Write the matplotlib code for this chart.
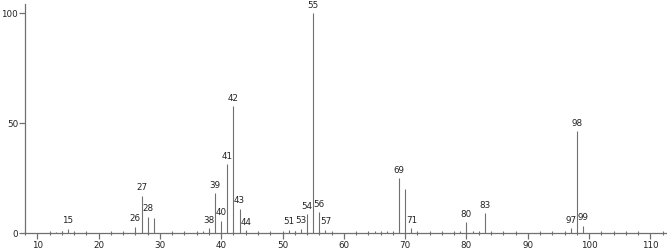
import matplotlib
matplotlib.use("Agg")
import matplotlib.pyplot as plt
from matplotlib.ticker import MultipleLocator

# mass spectrum: m/z and relative intensity
mz = [13, 14, 15, 26, 27, 28, 29, 37, 38, 39, 40, 41, 42, 43, 44,
      50, 51, 52, 53, 54, 55, 56, 57, 65, 67, 69, 70, 71,
      79, 80, 81, 83, 97, 98, 99]
intensity = [0.5, 1.0, 2.0, 2.9, 17.0, 7.4, 6.8, 1.0, 2.1, 18.2, 5.6, 31.4, 57.8, 11.1, 1.4,
             0.8, 1.5, 0.7, 2.0, 8.5, 100.0, 9.4, 1.5, 0.7, 0.7, 25.1, 20.2, 2.1,
             0.8, 4.9, 0.8, 9.1, 2.3, 46.4, 3.3]
labeled = [15, 26, 27, 28, 38, 39, 40, 41, 42, 43, 44, 51, 53, 54, 55, 56, 57,
           69, 71, 80, 83, 97, 98, 99]

line_col = "#707070"
text_col = "#222222"

fig = plt.figure(figsize=(6.67, 2.49), dpi=100)
ax = fig.add_axes([25 / 667, 16 / 249, 642 / 667, 229 / 249])

ax.vlines(mz, 0, intensity, color=line_col, linewidth=0.8)
for m, v in zip(mz, intensity):
    if m in labeled:
        ax.text(m, v + 1.5, str(m), ha="center", va="bottom",
                fontsize=6.3, color=text_col, family="DejaVu Sans")

ax.set_xlim(8.0, 112.7)
ax.set_ylim(0, 104.2)

for s in ["top", "right"]:
    ax.spines[s].set_visible(False)
for s in ["left", "bottom"]:
    ax.spines[s].set_color(line_col)
    ax.spines[s].set_linewidth(0.9)

ax.xaxis.set_major_locator(MultipleLocator(10))
ax.xaxis.set_minor_locator(MultipleLocator(2))
ax.set_yticks([0, 50, 100])
ax.tick_params(axis="x", which="major", direction="out", length=4, width=0.9,
               color=line_col, labelsize=6.3, labelcolor=text_col, pad=1.5)
ax.tick_params(axis="x", which="minor", direction="inout", length=3, width=0.8,
               color=line_col)
ax.tick_params(axis="y", direction="out", length=4, width=0.9, color=line_col,
               labelsize=6.3, labelcolor=text_col, pad=1)

fig.savefig("out.png", dpi=100)
